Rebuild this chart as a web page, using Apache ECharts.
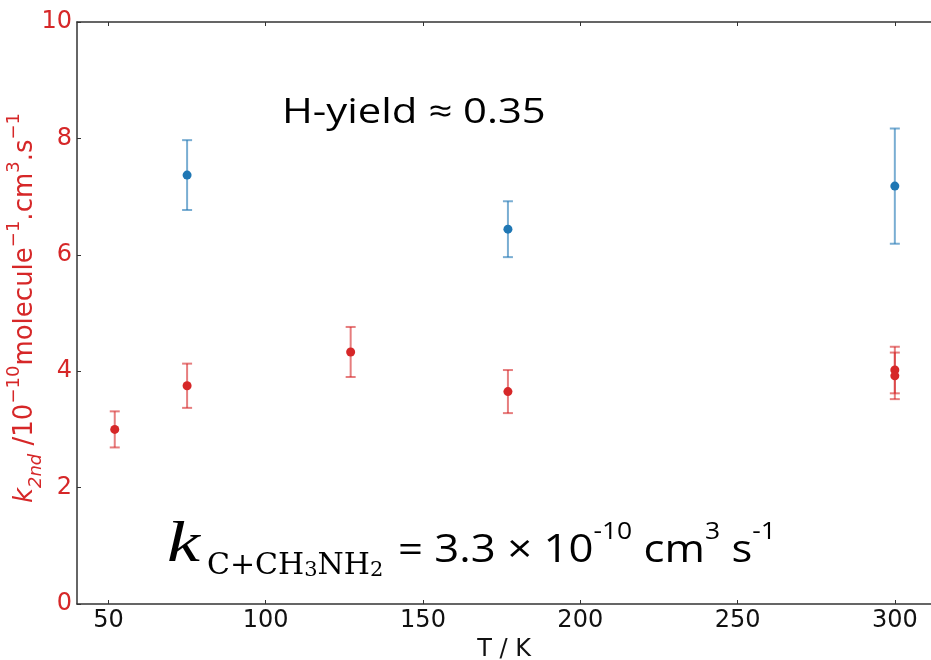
<!DOCTYPE html>
<html>
<head>
<meta charset="utf-8">
<script src="https://cdn.jsdelivr.net/npm/echarts@6/dist/echarts.min.js"></script>
<style>
  html, body { margin: 0; padding: 0; background: #ffffff; }
  #chart { width: 931px; height: 660px; }
</style>
</head>
<body>
<div id="chart"></div>
<script>
// Tick positions
const xTicks = [50, 100, 150, 200, 250, 300];
const yTicks = [0, 2, 4, 6, 8, 10];

// Second-order rate coefficients (units of 1e-10 cm3 molecule-1 s-1)
const redT = [52, 75, 127, 177, 300, 300];
const redK = [3.00, 3.75, 4.33, 3.65, 4.02, 3.92];
const redErr = [0.31, 0.38, 0.43, 0.37, 0.40, 0.40];

const blueT = [75, 177, 300];
const blueK = [7.37, 6.44, 7.18];
const blueErr = [0.60, 0.48, 0.99];

const RED = '#d62728';
const BLUE = '#1f77b4';
const AXIS = '#333333';

function errorBars(xs, ys, errs, color) {
  return {
    type: 'custom',
    silent: true,
    z: 2,
    data: xs.map((x, i) => [x, ys[i] - errs[i], ys[i] + errs[i]]),
    encode: { x: 0, y: [1, 2] },
    renderItem(params, api) {
      const x = api.value(0);
      const lo = api.coord([x, api.value(1)]);
      const hi = api.coord([x, api.value(2)]);
      const hw = 5;
      const style = { stroke: color, lineWidth: 2, opacity: 0.6 };
      return {
        type: 'group',
        children: [
          { type: 'line', shape: { x1: lo[0], y1: lo[1], x2: hi[0], y2: hi[1] }, style },
          { type: 'line', shape: { x1: lo[0] - hw, y1: lo[1], x2: lo[0] + hw, y2: lo[1] }, style },
          { type: 'line', shape: { x1: hi[0] - hw, y1: hi[1], x2: hi[0] + hw, y2: hi[1] }, style }
        ]
      };
    }
  };
}

function points(xs, ys, color) {
  return {
    type: 'scatter',
    z: 3,
    symbol: 'circle',
    symbolSize: 9,
    itemStyle: { color: color, opacity: 1 },
    data: xs.map((x, i) => [x, ys[i]])
  };
}

const chart = echarts.init(document.getElementById('chart'), null, { renderer: 'canvas' });

const axisCommon = {
  axisLine: { show: true, onZero: false, lineStyle: { color: AXIS, width: 1.5 } },
  axisTick: { show: true, inside: true, length: 4, lineStyle: { color: AXIS, width: 1 } },
  splitLine: { show: false }
};

chart.setOption({
  animation: false,
  backgroundColor: '#ffffff',
  grid: { left: 77, right: 0, top: 22, bottom: 56, outerBoundsMode: 'none' },
  xAxis: [
    Object.assign({}, axisCommon, {
      type: 'value',
      position: 'bottom',
      min: 40,
      max: 311.5,
      axisTick: Object.assign({}, axisCommon.axisTick, { customValues: xTicks }),
      axisLabel: {
        customValues: xTicks,
        margin: 5,
        color: '#111',
        fontFamily: 'DejaVu Sans',
        fontSize: 24
      },
      name: 'T / K',
      nameLocation: 'middle',
      nameGap: 31,
      nameTextStyle: { color: '#111', fontFamily: 'DejaVu Sans', fontSize: 24 }
    }),
    Object.assign({}, axisCommon, {
      type: 'value',
      position: 'top',
      min: 40,
      max: 311.5,
      axisTick: Object.assign({}, axisCommon.axisTick, { customValues: xTicks }),
      axisLabel: { show: false }
    })
  ],
  yAxis: [
    Object.assign({}, axisCommon, {
      type: 'value',
      min: 0,
      max: 10,
      interval: 2,
      axisLabel: {
        margin: 5,
        color: RED,
        fontFamily: 'DejaVu Sans',
        fontSize: 24
      }
    })
  ],
  graphic: [
    {
      type: 'text',
      x: 25,
      y: 308,
      rotation: Math.PI / 2,
      style: {
        text: '{k|k}{sub|2nd}{n| /10}{sup|−10}{n|molecule}{sup|−1}{n|.cm}{sup|3}{n|.s}{sup|−1}',
        align: 'center',
        verticalAlign: 'middle',
        fill: RED,
        rich: {
          k: { fontFamily: 'DejaVu Sans', fontStyle: 'italic', fontSize: 26, lineHeight: 40, fill: RED },
          sub: { fontFamily: 'DejaVu Sans', fontStyle: 'italic', fontSize: 18, lineHeight: 22, verticalAlign: 'bottom', fill: RED },
          n: { fontFamily: 'DejaVu Sans', fontSize: 26, lineHeight: 40, fill: RED },
          sup: { fontFamily: 'DejaVu Sans', fontSize: 18, lineHeight: 22, verticalAlign: 'top', fill: RED }
        }
      }
    },
    {
      type: 'text',
      x: 282,
      y: 113,
      scaleX: 1.23,
      style: {
        text: 'H-yield ≈ 0.35',
        fontFamily: 'Open Sans',
        fontSize: 34,
        fill: '#000',
        align: 'left',
        verticalAlign: 'middle'
      }
    },
    {
      type: 'text',
      x: 167,
      y: 509,
      scaleX: 1.28,
      style: {
        text: 'k',
        fontFamily: 'Liberation Serif',
        fontStyle: 'italic',
        fontSize: 58,
        lineHeight: 74,
        fill: '#000',
        align: 'left',
        verticalAlign: 'top'
      }
    },
    {
      type: 'text',
      x: 207,
      y: 541,
      style: {
        text: '{s|C+CH}{ss|3}{s|NH}{ss|2}',
        align: 'left',
        verticalAlign: 'top',
        fill: '#000',
        rich: {
          s: { fontFamily: 'DejaVu Serif', fontSize: 30, lineHeight: 40, verticalAlign: 'bottom', fill: '#000' },
          ss: { fontFamily: 'DejaVu Serif', fontSize: 21, lineHeight: 18, verticalAlign: 'bottom', fill: '#000' }
        }
      }
    },
    {
      type: 'text',
      x: 398,
      y: 521,
      scaleX: 1.15,
      style: {
        text: '{m|= 3.3 × 10}{p|-10}{m| cm}{p|3}{m| s}{p|-1}',
        align: 'left',
        verticalAlign: 'top',
        fill: '#000',
        rich: {
          m: { fontFamily: 'Open Sans', fontSize: 38, lineHeight: 60, fill: '#000' },
          p: { fontFamily: 'Open Sans', fontSize: 23, lineHeight: 40, verticalAlign: 'top', fill: '#000' }
        }
      }
    }
  ],
  series: [
    errorBars(redT, redK, redErr, RED),
    errorBars(blueT, blueK, blueErr, BLUE),
    points(redT, redK, RED),
    points(blueT, blueK, BLUE)
  ]
});
</script>
</body>
</html>
